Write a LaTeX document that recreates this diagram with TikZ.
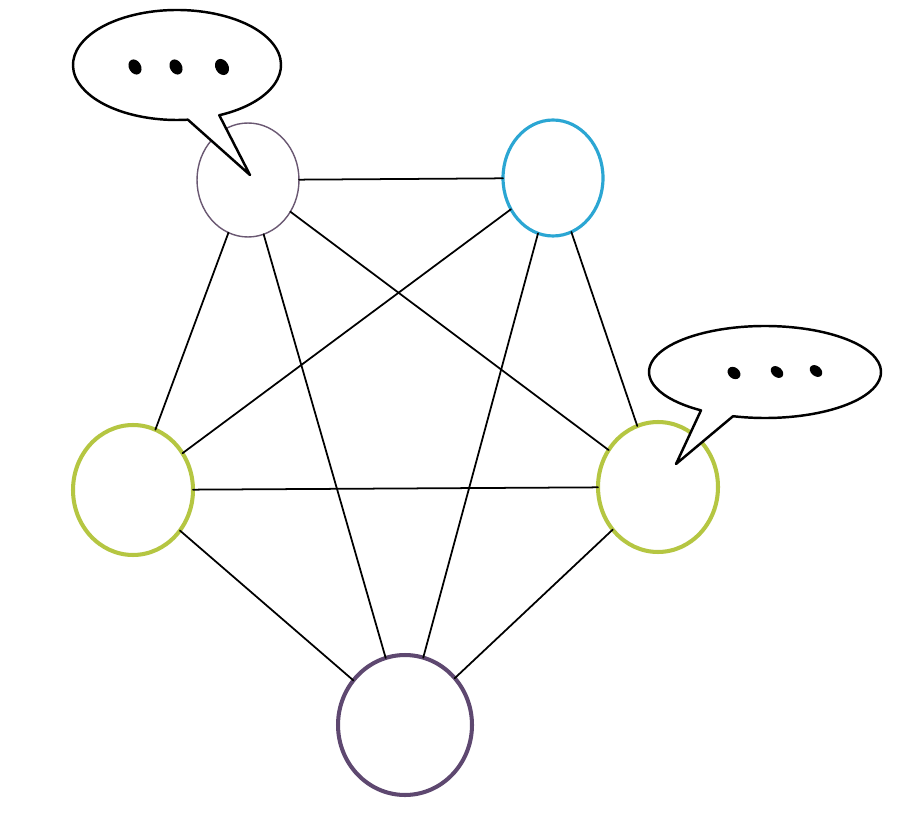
\documentclass[tikz,border=0pt]{standalone}
\usetikzlibrary{shapes.geometric,calc}
\definecolor{tlpurple}{HTML}{6A5872}
\definecolor{nodeblue}{HTML}{2BA6D3}
\definecolor{nodegreen}{HTML}{B5C642}
\definecolor{bpurple}{HTML}{5E4870}
\tikzset{
  vertex/.style={ellipse, inner sep=0pt, outer sep=0pt},
  link/.style={line width=1.0pt, black, line cap=round},
  bubble/.style={line width=1.4pt, black, line join=round, fill=white},
  dotmark/.style={fill=black}
}
\begin{document}
\begin{tikzpicture}[x=0.02cm, y=0.02cm]
\useasboundingbox[fill=white] (0,0) rectangle (908,825);
% vertices
\node[vertex, draw=tlpurple, line width=0.8pt, minimum width=2.04cm, minimum height=2.28cm] (tl) at (248,645) {};
\node[vertex, draw=nodeblue, line width=1.8pt, minimum width=2.0cm, minimum height=2.32cm] (tr) at (553,647) {};
\node[vertex, draw=nodegreen, line width=2.3pt, minimum width=2.4cm, minimum height=2.6cm] (l) at (133,335) {};
\node[vertex, draw=nodegreen, line width=2.3pt, minimum width=2.4cm, minimum height=2.6cm] (r) at (658,338) {};
\node[vertex, draw=bpurple, line width=2.3pt, minimum width=2.68cm, minimum height=2.8cm] (b) at (405,100) {};
% edges
\draw[link] (tl) -- (tr);
\draw[link] (tl) -- (l);
\draw[link] (tl) -- (b);
\draw[link] (tl) -- (r);
\draw[link] (tr) -- (l);
\draw[link] (tr) -- (b);
\draw[link] (tr) -- (r);
\draw[link] (l) -- (r);
\draw[link] (l) -- (b);
\draw[link] (r) -- (b);
% speech bubble 1
\coordinate (c1) at (177,760);
\coordinate (tip1) at (250,650);
\draw[bubble] ($(c1)+(-66:104 and 55)$) arc[start angle=-66, end angle=276, x radius=104, y radius=55]
  -- (tip1) -- cycle;
\fill[dotmark, rotate around={30:(135,758)}] (135,758) ellipse [x radius=6, y radius=8];
\fill[dotmark, rotate around={30:(176,758)}] (176,758) ellipse [x radius=6, y radius=8];
\fill[dotmark, rotate around={30:(222,758)}] (222,758) ellipse [x radius=6.5, y radius=8.5];
% speech bubble 2
\coordinate (c2) at (765,453);
\coordinate (tip2) at (676,361);
\draw[bubble] ($(c2)+(254:116 and 46)$) arc[start angle=254, end angle=596.5, x radius=116, y radius=46]
  -- (tip2) -- cycle;
\fill[dotmark, rotate around={50:(734,452)}] (734,452) ellipse [x radius=5.5, y radius=7];
\fill[dotmark, rotate around={50:(777,453)}] (777,453) ellipse [x radius=5, y radius=7];
\fill[dotmark, rotate around={50:(816,454)}] (816,454) ellipse [x radius=5, y radius=7];
\end{tikzpicture}
\end{document}
